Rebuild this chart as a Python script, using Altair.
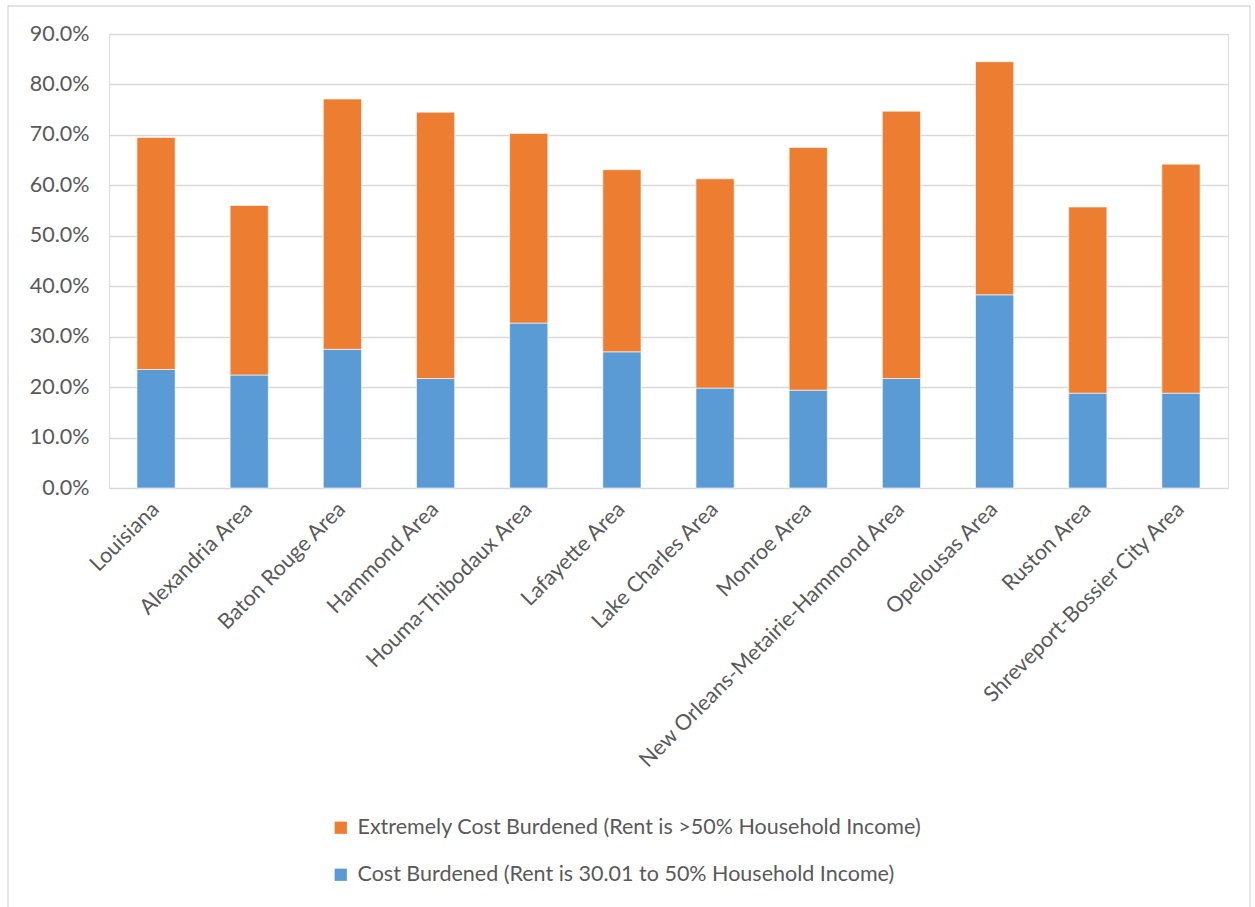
import altair as alt
import pandas as pd

areas = ["Louisiana", "Alexandria Area", "Baton Rouge Area", "Hammond Area",
         "Houma-Thibodaux Area", "Lafayette Area", "Lake Charles Area", "Monroe Area",
         "New Orleans-Metairie-Hammond Area", "Opelousas Area", "Ruston Area",
         "Shreveport-Bossier City Area"]
cost_burdened = [23.5, 22.4, 27.5, 21.7, 32.7, 27.0, 19.8, 19.4, 21.7, 38.3, 18.8, 18.8]
total_burdened = [69.5, 56.0, 77.1, 74.5, 70.3, 63.1, 61.3, 67.5, 74.7, 84.5, 55.7, 64.2]

s_ext = "Extremely Cost Burdened (Rent is >50% Household Income)"
s_cb = "Cost Burdened (Rent is 30.01 to 50% Household Income)"

rows = []
for a, c, t in zip(areas, cost_burdened, total_burdened):
    rows.append({"area": a, "series": s_cb, "value": c / 100, "ord": 0})
    rows.append({"area": a, "series": s_ext, "value": round(t - c, 2) / 100, "ord": 1})
df = pd.DataFrame(rows)

FONT = "Lato"
GREY = "#595959"
FS = 21.5

bars = alt.Chart(df).mark_bar(stroke="white", strokeWidth=0.6).encode(
    x=alt.X("area:N", sort=areas, title=None,
            scale=alt.Scale(paddingInner=0.59, paddingOuter=0.3),
            axis=alt.Axis(labelAngle=-45, labelAlign="right", labelBaseline="middle",
                          labelFontSize=FS, labelColor=GREY, labelFont=FONT,
                          ticks=False, domain=False, labelPadding=18, labelLimit=400)),
    y=alt.Y("value:Q", stack="zero", title=None,
            scale=alt.Scale(domain=[0, 0.9], nice=False),
            axis=alt.Axis(format=".1%", values=[i / 10 for i in range(10)],
                          labelFontSize=FS, labelColor=GREY, labelFont=FONT,
                          ticks=False, domain=False, gridColor="#d9d9d9", gridWidth=1.3,
                          labelPadding=20)),
    color=alt.Color("series:N", title=None,
                    scale=alt.Scale(domain=[s_ext, s_cb], range=["#ed7d31", "#5b9bd5"]),
                    legend=alt.Legend(orient="none", legendX=221, legendY=783,
                                      direction="vertical", symbolType="square",
                                      symbolSize=150, symbolStrokeWidth=0,
                                      labelFontSize=FS, labelColor=GREY, labelFont=FONT,
                                      rowPadding=24, labelLimit=800, labelOffset=6)),
    order=alt.Order("ord:Q"),
)

border = alt.Chart(pd.DataFrame({"k": [0]})).mark_rect(
    fill=None, stroke="#d9d9d9", strokeWidth=1.3
).encode(x=alt.value(-101), x2=alt.value(1141), y=alt.value(-28), y2=alt.value(900))

chart = alt.layer(border, bars).properties(
    width=1119, height=454,
    autosize=alt.AutoSizeParams(type="none"),
    padding={"left": 109, "top": 34, "right": 27, "bottom": 419},
).configure_view(stroke=None).configure(background="white")

chart.save("out.html", embed_options={"renderer": "svg", "actions": False})
